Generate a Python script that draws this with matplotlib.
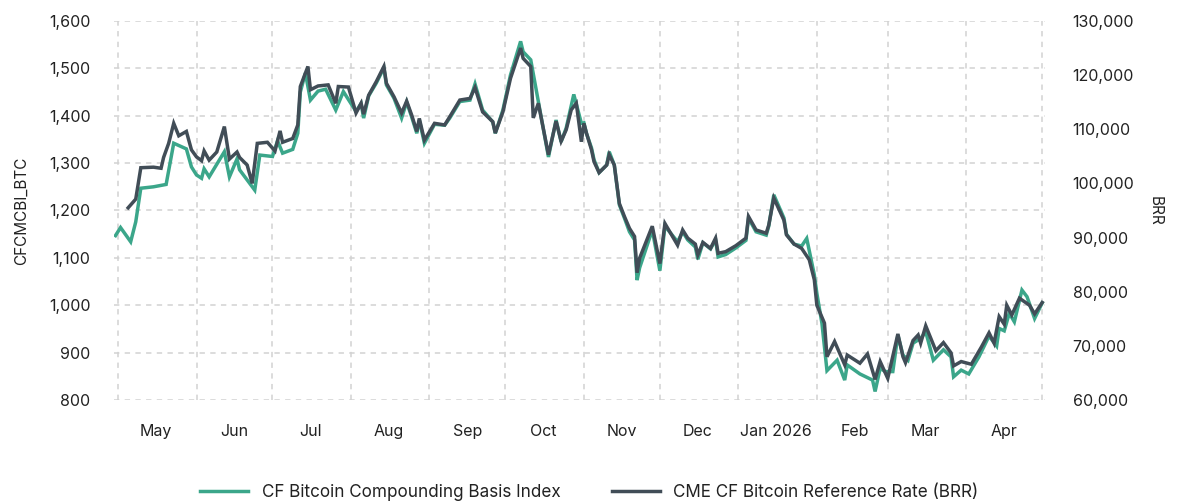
import matplotlib
matplotlib.use("Agg")
import matplotlib.pyplot as plt
import matplotlib.dates as mdates
from matplotlib.ticker import FixedLocator, FuncFormatter, NullFormatter
import pandas as pd

# CF Bitcoin Compounding Basis Index (left axis)
cbi_dates = [
    "2025-04-30", "2025-05-02", "2025-05-06", "2025-05-08", "2025-05-10", "2025-05-15",
    "2025-05-20", "2025-05-23", "2025-05-28", "2025-05-30", "2025-06-01", "2025-06-03",
    "2025-06-04", "2025-06-06", "2025-06-12", "2025-06-14", "2025-06-17", "2025-06-18",
    "2025-06-24", "2025-06-26", "2025-07-01", "2025-07-03", "2025-07-05", "2025-07-09",
    "2025-07-11", "2025-07-12", "2025-07-14", "2025-07-16", "2025-07-19", "2025-07-22",
    "2025-07-26", "2025-07-29", "2025-08-03", "2025-08-05", "2025-08-06", "2025-08-08",
    "2025-08-11", "2025-08-14", "2025-08-15", "2025-08-18", "2025-08-21", "2025-08-23",
    "2025-08-25", "2025-08-27", "2025-08-28", "2025-08-30", "2025-09-03", "2025-09-07",
    "2025-09-09", "2025-09-13", "2025-09-17", "2025-09-19", "2025-09-22", "2025-09-26",
    "2025-09-27", "2025-09-30", "2025-10-03", "2025-10-07", "2025-10-08", "2025-10-11",
    "2025-10-14", "2025-10-18", "2025-10-21", "2025-10-23", "2025-10-25", "2025-10-28",
    "2025-10-31", "2025-11-01", "2025-11-02", "2025-11-04", "2025-11-05", "2025-11-07",
    "2025-11-10", "2025-11-11", "2025-11-13", "2025-11-15", "2025-11-17", "2025-11-19",
    "2025-11-21", "2025-11-22", "2025-11-23", "2025-11-28", "2025-12-01", "2025-12-03",
    "2025-12-08", "2025-12-10", "2025-12-12", "2025-12-15", "2025-12-16", "2025-12-18",
    "2025-12-21", "2025-12-23", "2025-12-24", "2025-12-27", "2025-12-31", "2026-01-04",
    "2026-01-05", "2026-01-08", "2026-01-12", "2026-01-13", "2026-01-15", "2026-01-19",
    "2026-01-20", "2026-01-23", "2026-01-26", "2026-01-28", "2026-01-31", "2026-02-01",
    "2026-02-03", "2026-02-05", "2026-02-09", "2026-02-12", "2026-02-13", "2026-02-18",
    "2026-02-23", "2026-02-24", "2026-02-26", "2026-02-28", "2026-03-03", "2026-03-05",
    "2026-03-07", "2026-03-09", "2026-03-11", "2026-03-14", "2026-03-16", "2026-03-19",
    "2026-03-23", "2026-03-26", "2026-03-27", "2026-03-30", "2026-04-02", "2026-04-06",
    "2026-04-10", "2026-04-13", "2026-04-14", "2026-04-16", "2026-04-18", "2026-04-20",
    "2026-04-23", "2026-04-25", "2026-04-28", "2026-05-01",
]
cbi_values = [
    1147, 1164, 1134, 1176, 1247, 1250,
    1255, 1342, 1330, 1292, 1275, 1268,
    1288, 1271, 1324, 1271, 1309, 1286,
    1243, 1317, 1314, 1347, 1321, 1329,
    1363, 1450, 1490, 1433, 1452, 1456,
    1412, 1451, 1409, 1426, 1395, 1442,
    1469, 1501, 1465, 1437, 1395, 1429,
    1397, 1363, 1391, 1342, 1382, 1380,
    1395, 1430, 1433, 1467, 1412, 1387,
    1363, 1412, 1486, 1557, 1535, 1518,
    1430, 1313, 1391, 1345, 1374, 1445,
    1384, 1385, 1363, 1332, 1307, 1280,
    1296, 1324, 1296, 1212, 1184, 1155,
    1138, 1053, 1079, 1159, 1073, 1167,
    1134, 1155, 1138, 1123, 1097, 1132,
    1119, 1138, 1102, 1107, 1121, 1137,
    1184, 1155, 1148, 1167, 1233, 1184,
    1150, 1129, 1125, 1141, 1064, 1025,
    962, 862, 884, 842, 874, 855,
    842, 818, 867, 860, 860, 937,
    895, 884, 920, 930, 944, 884,
    906, 891, 849, 863, 855, 891,
    935, 914, 951, 946, 983, 965,
    1032, 1018, 972, 1005,
]

# CME CF Bitcoin Reference Rate (right axis)
brr_dates = [
    "2025-05-05", "2025-05-08", "2025-05-10", "2025-05-15", "2025-05-18", "2025-05-19",
    "2025-05-21", "2025-05-23", "2025-05-25", "2025-05-28", "2025-05-30", "2025-06-01",
    "2025-06-03", "2025-06-04", "2025-06-06", "2025-06-09", "2025-06-12", "2025-06-14",
    "2025-06-17", "2025-06-18", "2025-06-21", "2025-06-23", "2025-06-25", "2025-06-29",
    "2025-07-02", "2025-07-04", "2025-07-05", "2025-07-09", "2025-07-11", "2025-07-12",
    "2025-07-15", "2025-07-16", "2025-07-19", "2025-07-23", "2025-07-26", "2025-07-27",
    "2025-07-31", "2025-08-03", "2025-08-05", "2025-08-06", "2025-08-08", "2025-08-11",
    "2025-08-14", "2025-08-15", "2025-08-18", "2025-08-21", "2025-08-23", "2025-08-25",
    "2025-08-27", "2025-08-28", "2025-08-30", "2025-09-03", "2025-09-07", "2025-09-09",
    "2025-09-13", "2025-09-17", "2025-09-19", "2025-09-22", "2025-09-26", "2025-09-27",
    "2025-09-30", "2025-10-03", "2025-10-07", "2025-10-08", "2025-10-11", "2025-10-12",
    "2025-10-14", "2025-10-18", "2025-10-21", "2025-10-23", "2025-10-25", "2025-10-27",
    "2025-10-29", "2025-10-31", "2025-11-01", "2025-11-02", "2025-11-04", "2025-11-05",
    "2025-11-07", "2025-11-10", "2025-11-11", "2025-11-13", "2025-11-15", "2025-11-17",
    "2025-11-19", "2025-11-21", "2025-11-22", "2025-11-23", "2025-11-28", "2025-12-01",
    "2025-12-03", "2025-12-08", "2025-12-10", "2025-12-12", "2025-12-15", "2025-12-16",
    "2025-12-18", "2025-12-21", "2025-12-23", "2025-12-24", "2025-12-27", "2025-12-31",
    "2026-01-04", "2026-01-05", "2026-01-08", "2026-01-12", "2026-01-13", "2026-01-15",
    "2026-01-19", "2026-01-20", "2026-01-23", "2026-01-26", "2026-01-29", "2026-01-31",
    "2026-02-01", "2026-02-04", "2026-02-05", "2026-02-08", "2026-02-12", "2026-02-13",
    "2026-02-18", "2026-02-21", "2026-02-24", "2026-02-26", "2026-03-01", "2026-03-05",
    "2026-03-07", "2026-03-08", "2026-03-11", "2026-03-13", "2026-03-14", "2026-03-16",
    "2026-03-20", "2026-03-23", "2026-03-26", "2026-03-27", "2026-03-30", "2026-04-03",
    "2026-04-07", "2026-04-10", "2026-04-12", "2026-04-14", "2026-04-16", "2026-04-17",
    "2026-04-19", "2026-04-22", "2026-04-26", "2026-04-28", "2026-05-01",
]
brr_values = [
    95500, 97100, 102900, 103000, 102800, 104800,
    107400, 111100, 108800, 109600, 106200, 104900,
    104200, 106000, 104300, 105800, 110500, 104500,
    105800, 104800, 103400, 100000, 107400, 107600,
    106000, 109700, 107600, 108300, 110800, 117900,
    121600, 117300, 118000, 118200, 114800, 117900,
    117800, 113000, 114800, 112800, 116300, 118800,
    121600, 118500, 116000, 113000, 115200, 112600,
    109600, 112000, 108000, 111100, 110800, 112300,
    115400, 115700, 117700, 113200, 111400, 109300,
    113200, 119400, 125000, 123100, 121600, 112100,
    114800, 105300, 111500, 107800, 109900, 113600,
    114800, 107700, 111100, 109300, 106200, 104000,
    102000, 103400, 105300, 103400, 96300, 93900,
    91700, 90200, 83500, 86200, 92100, 85200,
    92600, 88600, 91400, 89900, 88800, 86800,
    89100, 88000, 89900, 87100, 87400, 88500,
    89900, 93900, 91400, 90800, 92300, 97300,
    93200, 90500, 88800, 88000, 85900, 82200,
    77500, 74200, 68000, 70800, 66500, 68300,
    66800, 68500, 63800, 67100, 64000, 72200,
    68000, 66900, 71000, 72000, 70500, 73700,
    69100, 70600, 68700, 66300, 67100, 66600,
    69800, 72400, 70500, 75400, 74000, 77500,
    75700, 78800, 77500, 75900, 78000,
]

month_starts = pd.date_range("2025-05-01", "2026-05-01", freq="MS")
month_labels = ["May", "Jun", "Jul", "Aug", "Sep", "Oct", "Nov", "Dec",
                "Jan 2026", "Feb", "Mar", "Apr"]

GREEN = "#3ba68a"
DARK = "#414d57"
GRID = "#d2d2d2"
TEXT = "#222222"

plt.rcParams["font.family"] = ["Inter", "DejaVu Sans"]

fig = plt.figure(figsize=(11.79, 5.01), dpi=100)
ax = fig.add_axes([0.0967, 0.2016, 0.7896, 0.7565])
ax2 = ax.twinx()

ax.plot(pd.to_datetime(cbi_dates), cbi_values, color=GREEN, lw=2.5,
        solid_joinstyle="miter", label="CF Bitcoin Compounding Basis Index")
ax2.plot(pd.to_datetime(brr_dates), brr_values, color=DARK, lw=2.5,
         solid_joinstyle="miter", label="CME CF Bitcoin Reference Rate (BRR)")

ax.set_xlim(pd.Timestamp("2025-04-29 10:00"), pd.Timestamp("2026-05-02 02:00"))
ax.set_ylim(800, 1600)
ax2.set_ylim(60000, 130000)
ax.set_yticks(range(800, 1601, 100))
ax2.set_yticks(range(60000, 130001, 10000))
ax.yaxis.set_major_formatter(FuncFormatter(lambda v, p: f"{v:,.0f}"))
ax2.yaxis.set_major_formatter(FuncFormatter(lambda v, p: f"{v:,.0f}"))

# gridlines on month starts, labels mid-month
mid_months = [d + pd.Timedelta(days=15) for d in month_starts[:-1]]
ax.xaxis.set_major_locator(FixedLocator(mdates.date2num(month_starts)))
ax.xaxis.set_major_formatter(NullFormatter())
ax.set_xticks(mdates.date2num(mid_months), month_labels, minor=True)

ax.grid(True, which="major", color=GRID, lw=1.1, ls=(0, (3.5, 3.5)))
ax.set_axisbelow(True)

for a in (ax, ax2):
    for s in a.spines.values():
        s.set_visible(False)
    a.tick_params(which="both", length=0, labelsize=11.5, colors=TEXT)
ax.tick_params(axis="y", pad=17)
ax2.tick_params(axis="y", pad=20)
ax.tick_params(axis="x", which="minor", pad=17)

ax.set_ylabel("CFCMCBI_BTC", fontsize=11, color=TEXT, labelpad=14)
ax2.set_ylabel("BRR", fontsize=11, color=TEXT, rotation=270, labelpad=20)

h1, l1 = ax.get_legend_handles_labels()
h2, l2 = ax2.get_legend_handles_labels()
fig.legend(h1 + h2, l1 + l2, loc="lower center", bbox_to_anchor=(0.5, -0.03),
           ncol=2, frameon=False, fontsize=12.3, handlelength=2.8,
           columnspacing=3.0, labelcolor=TEXT)

fig.savefig("out.png", dpi=100)
